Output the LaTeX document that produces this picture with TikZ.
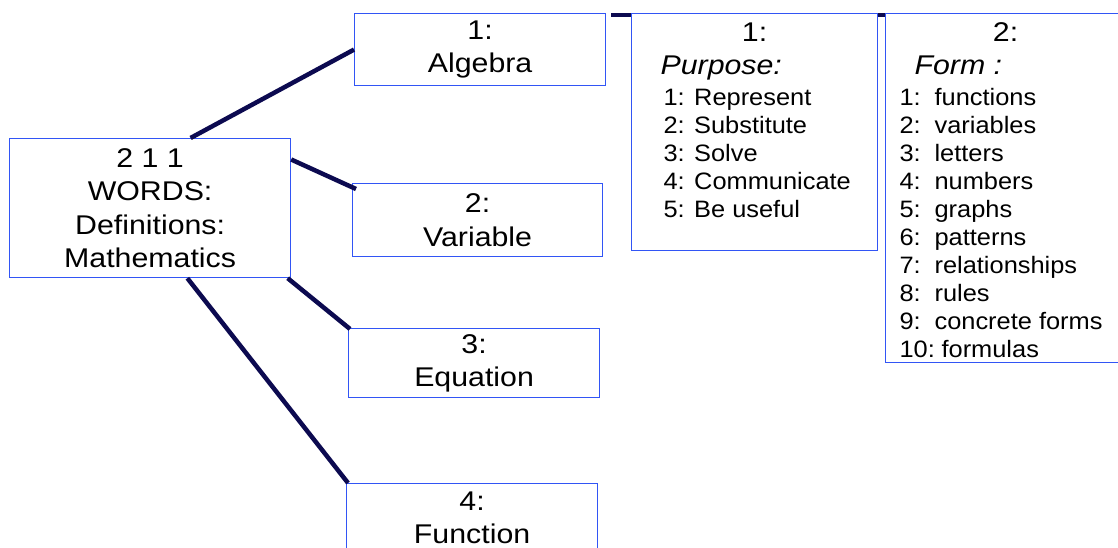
\documentclass[tikz,border=0pt]{standalone}
\usepackage{fontspec}
\setmainfont{Liberation Sans}[FakeStretch=1.12]
\newfontfamily\listfont{Liberation Sans}[FakeStretch=1.07]
\usetikzlibrary{backgrounds}
\definecolor{boxblue}{RGB}{50,85,245}
\definecolor{linknavy}{RGB}{12,10,80}
\newlength\PX
\setlength\PX{0.75pt}
\newcommand{\bigtext}{\fontsize{20.3}{25}\selectfont}
\newcommand{\listtext}{\listfont\fontsize{17.8}{21}\selectfont}
\newcommand{\fitem}[2]{\makebox[35\PX][l]{#1:}#2\par}

\tikzset{
  wordbox/.style={draw=boxblue, line width=1.2\PX, inner sep=0pt,
                  align=center, font=\bigtext, anchor=north west},
  link/.style={draw=linknavy, line width=4.5\PX},
}

\begin{document}
\begin{tikzpicture}[x=1\PX, y=-1\PX]
  \useasboundingbox (0,0) rectangle (1118,548);

  % words and their branches
  \node[wordbox, minimum width=281\PX, minimum height=139\PX] (words) at (9,138)
    {2 1 1\\WORDS:\\Definitions:\\Mathematics};
  \node[wordbox, minimum width=251\PX, minimum height=72\PX] (alg) at (354,13)
    {1:\\Algebra};
  \node[wordbox, minimum width=250\PX, minimum height=73\PX] (var) at (352,183)
    {2:\\Variable};
  \node[wordbox, minimum width=251\PX, minimum height=69\PX] (eq) at (348,328)
    {3:\\Equation};
  \node[wordbox, minimum width=251\PX, minimum height=68\PX] (fun) at (346,483)
    {4:\\Function};

  % purpose and form of algebra
  \node[wordbox, align=left] (purp) at (631,13) {%
    \parbox[t][237\PX][t]{246\PX}{%
      \vspace*{9\PX}\bigtext
      \makebox[246\PX]{1:}\par
      \hspace*{29\PX}\textit{Purpose:}\par
      \vspace{3\PX}\listtext\leftskip=32\PX
      1: Represent\par
      2: Substitute\par
      3: Solve\par
      4: Communicate\par
      5: Be useful\par}};
  \node[wordbox, align=left] (form) at (885,13) {%
    \parbox[t][349\PX][t]{240\PX}{%
      \vspace*{9\PX}\bigtext
      \makebox[240\PX]{2:}\par
      \hspace*{29\PX}\textit{Form :}\par
      \vspace{3\PX}\listtext\leftskip=14\PX
      \fitem{1}{functions}
      \fitem{2}{variables}
      \fitem{3}{letters}
      \fitem{4}{numbers}
      \fitem{5}{graphs}
      \fitem{6}{patterns}
      \fitem{7}{relationships}
      \fitem{8}{rules}
      \fitem{9}{concrete forms}
      \makebox[42\PX][l]{10:}formulas\par}};

  % connectors
  \draw[link] (words.60) -- (alg.west);
  \draw[link] (words.19) -- ([shift={(4\PX,-6\PX)}]var.north west);
  \draw[link] (words.-27) -- ([shift={(2\PX,-1\PX)}]eq.north west);
  \draw[link] (words.-62) -- ([shift={(2\PX,0)}]fun.north west);
  \draw[link] ([shift={(5\PX,-2\PX)}]alg.north east) -- ([yshift=-2\PX]purp.north west);
  \draw[link] ([yshift=-2\PX]purp.north east) -- ([yshift=-2\PX]form.north west);
\end{tikzpicture}
\end{document}
